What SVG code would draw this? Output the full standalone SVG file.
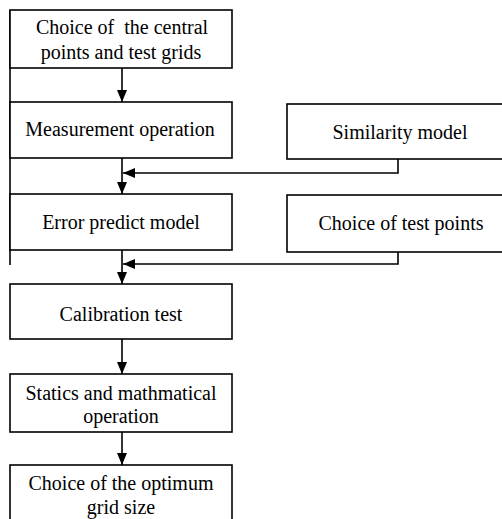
<svg xmlns="http://www.w3.org/2000/svg" width="502" height="519" viewBox="0 0 502 519">
<defs>
<marker id="ah" viewBox="0 0 12 10" refX="12" refY="5" markerWidth="12" markerHeight="10" markerUnits="userSpaceOnUse" orient="auto">
<path d="M0,0 L12,5 L0,10 Z" fill="#000"/>
</marker>
</defs>
<style>
.box{fill:#fff;stroke:#000;stroke-width:1.6}
.t{font-family:"Liberation Serif","Times New Roman",serif;font-size:20px;fill:#000;text-anchor:middle;white-space:pre}
.c{fill:none;stroke:#000;stroke-width:1.6}
</style>
<rect width="502" height="519" fill="#fff"/>
<g id="connectors">
<line class="c" x1="10" y1="10" x2="10" y2="265"/>
<line class="c" x1="122" y1="68" x2="122" y2="102" marker-end="url(#ah)"/>
<line class="c" x1="122" y1="158" x2="122" y2="194" marker-end="url(#ah)"/>
<polyline class="c" points="398,159 398,173 123,173" marker-end="url(#ah)"/>
<line class="c" x1="122" y1="250" x2="122" y2="284" marker-end="url(#ah)"/>
<polyline class="c" points="398,252 398,264 123,264" marker-end="url(#ah)"/>
<line class="c" x1="122" y1="339" x2="122" y2="374" marker-end="url(#ah)"/>
<line class="c" x1="122" y1="432" x2="122" y2="465" marker-end="url(#ah)"/>
</g>
<g id="n1"><rect class="box" x="10" y="10" width="222" height="58"/><text class="t" x="122" y="34" xml:space="preserve">Choice of  the central</text><text class="t" x="121" y="59">points and test grids</text></g>
<g id="n2"><rect class="box" x="10" y="102" width="222" height="56"/><text class="t" x="120" y="136">Measurement operation</text></g>
<g id="n3"><rect class="box" x="10" y="194" width="222" height="56"/><text class="t" x="121" y="229">Error predict model</text></g>
<g id="n4"><rect class="box" x="287" y="104" width="220" height="55"/><text class="t" x="400" y="139">Similarity model</text></g>
<g id="n5"><rect class="box" x="287" y="195" width="220" height="57"/><text class="t" x="401" y="230">Choice of test points</text></g>
<g id="n6"><rect class="box" x="10" y="284" width="222" height="55"/><text class="t" x="121" y="321">Calibration test</text></g>
<g id="n7"><rect class="box" x="10" y="374" width="222" height="58"/><text class="t" x="121" y="400">Statics and mathmatical</text><text class="t" x="121" y="423">operation</text></g>
<g id="n8"><rect class="box" x="10" y="465" width="222" height="70"/><text class="t" x="121" y="490">Choice of the optimum</text><text class="t" x="121" y="514">grid size</text></g>
</svg>
